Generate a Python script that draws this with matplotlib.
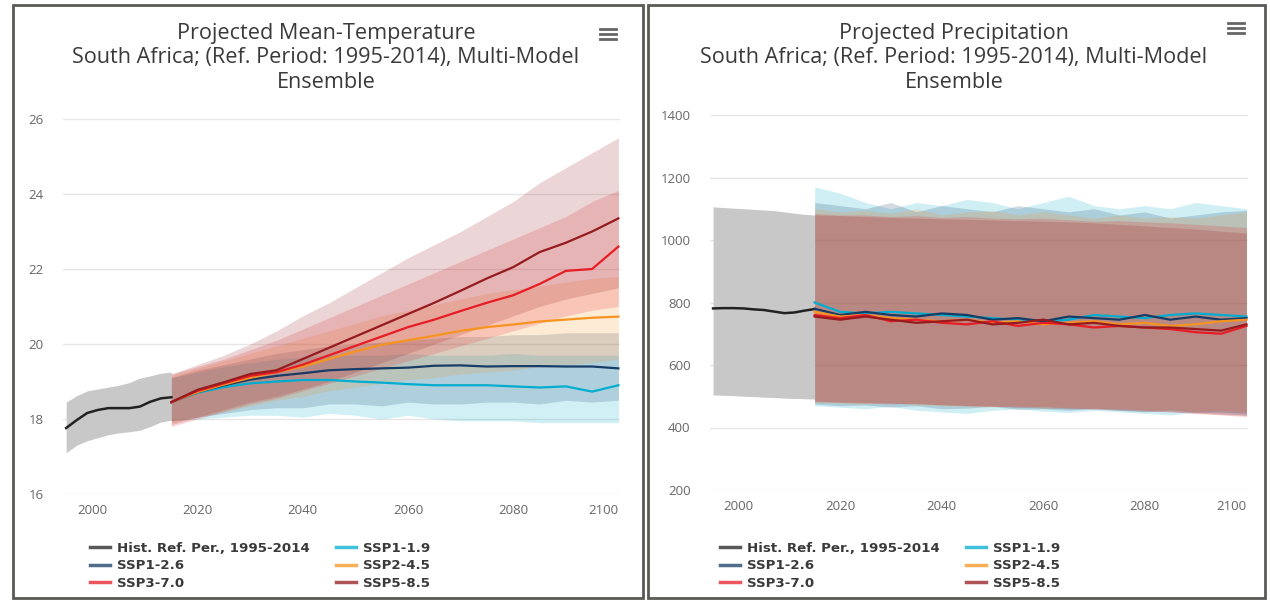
import numpy as np
import matplotlib
matplotlib.use("Agg")
import matplotlib.pyplot as plt
from matplotlib.lines import Line2D
from matplotlib.patches import Rectangle

plt.rcParams['font.family'] = ['Open Sans', 'DejaVu Sans']

# ---- data ----
hist_years = [1995, 1997, 1999, 2001, 2003, 2005, 2007, 2009, 2011, 2013, 2015]
hist_temp = [17.76, 17.97, 18.16, 18.24, 18.29, 18.29, 18.29, 18.33, 18.46, 18.55, 18.58]
hist_temp_lo = [17.1, 17.3, 17.42, 17.5, 17.58, 17.63, 17.66, 17.7, 17.8, 17.92, 17.97]
hist_temp_hi = [18.45, 18.62, 18.75, 18.8, 18.85, 18.9, 18.97, 19.09, 19.15, 19.22, 19.25]

hist_pr = [781, 782, 782, 781, 778, 776, 771, 766, 768, 774, 779]
hist_pr_lo = [504, 503, 502, 500, 499, 497, 496, 494, 493, 492, 491]
hist_pr_hi = [1106, 1104, 1102, 1100, 1098, 1096, 1094, 1090, 1086, 1082, 1080]

years = [2015, 2020, 2025, 2030, 2035, 2040, 2045, 2050, 2055, 2060,
         2065, 2070, 2075, 2080, 2085, 2090, 2095, 2100]

scenarios = ['SSP1-1.9', 'SSP1-2.6', 'SSP2-4.5', 'SSP3-7.0', 'SSP5-8.5']
colors = ['#00adcf', '#173c66', '#f79420', '#e71d25', '#951b1e']

temp = {
    'SSP1-1.9': [18.45, 18.7, 18.85, 18.95, 19.0, 19.04, 19.04, 19.0, 18.97, 18.93,
                 18.9, 18.9, 18.9, 18.87, 18.84, 18.87, 18.73, 18.9],
    'SSP1-2.6': [18.45, 18.72, 18.9, 19.05, 19.15, 19.22, 19.3, 19.33, 19.35, 19.37,
                 19.42, 19.43, 19.4, 19.41, 19.41, 19.4, 19.4, 19.35],
    'SSP2-4.5': [18.45, 18.72, 18.92, 19.1, 19.25, 19.4, 19.6, 19.8, 19.98, 20.1,
                 20.22, 20.35, 20.45, 20.52, 20.6, 20.65, 20.7, 20.73],
    'SSP3-7.0': [18.45, 18.75, 18.95, 19.15, 19.25, 19.45, 19.7, 19.95, 20.2, 20.45,
                 20.65, 20.88, 21.1, 21.3, 21.6, 21.95, 22.0, 22.6],
    'SSP5-8.5': [18.45, 18.78, 18.98, 19.2, 19.3, 19.6, 19.9, 20.2, 20.5, 20.8,
                 21.1, 21.42, 21.75, 22.05, 22.45, 22.7, 23.0, 23.35],
}
temp_lo = {
    'SSP1-1.9': [17.95, 18.0, 18.05, 18.1, 18.1, 18.05, 18.15, 18.1, 18.0, 18.1,
                 18.0, 17.95, 17.95, 17.95, 17.9, 17.9, 17.9, 17.9],
    'SSP1-2.6': [17.95, 18.05, 18.15, 18.25, 18.3, 18.3, 18.4, 18.4, 18.35, 18.45,
                 18.4, 18.4, 18.45, 18.45, 18.4, 18.5, 18.45, 18.5],
    'SSP2-4.5': [17.9, 18.05, 18.2, 18.35, 18.5, 18.6, 18.75, 18.85, 18.95, 19.05,
                 19.1, 19.2, 19.25, 19.3, 19.4, 19.45, 19.5, 19.6],
    'SSP3-7.0': [17.8, 18.0, 18.2, 18.4, 18.55, 18.75, 18.95, 19.15, 19.35, 19.55,
                 19.75, 19.95, 20.15, 20.35, 20.55, 20.75, 20.9, 21.0],
    'SSP5-8.5': [17.85, 18.05, 18.25, 18.45, 18.6, 18.8, 19.0, 19.25, 19.5, 19.75,
                 20.0, 20.25, 20.5, 20.75, 21.0, 21.2, 21.35, 21.5],
}
temp_hi = {
    'SSP1-1.9': [19.1, 19.25, 19.4, 19.5, 19.6, 19.65, 19.7, 19.7, 19.7, 19.75,
                 19.7, 19.7, 19.7, 19.75, 19.7, 19.7, 19.7, 19.7],
    'SSP1-2.6': [19.1, 19.3, 19.45, 19.6, 19.75, 19.85, 19.95, 20.0, 20.05, 20.1,
                 20.15, 20.2, 20.2, 20.25, 20.25, 20.3, 20.3, 20.3],
    'SSP2-4.5': [19.15, 19.35, 19.55, 19.75, 19.95, 20.15, 20.35, 20.55, 20.75, 20.9,
                 21.05, 21.2, 21.35, 21.45, 21.55, 21.65, 21.75, 21.8],
    'SSP3-7.0': [19.2, 19.4, 19.6, 19.85, 20.1, 20.4, 20.7, 21.0, 21.3, 21.6,
                 21.9, 22.2, 22.5, 22.8, 23.1, 23.4, 23.8, 24.1],
    'SSP5-8.5': [19.2, 19.45, 19.7, 20.0, 20.35, 20.75, 21.1, 21.5, 21.9, 22.3,
                 22.65, 23.0, 23.4, 23.8, 24.3, 24.7, 25.1, 25.5],
}

pr = {
    'SSP1-1.9': [800, 770, 765, 770, 765, 760, 755, 750, 745, 740, 745, 760, 755, 750, 760, 765, 760, 755],
    'SSP1-2.6': [780, 760, 770, 760, 755, 765, 760, 745, 750, 740, 755, 750, 745, 760, 745, 755, 745, 750],
    'SSP2-4.5': [770, 755, 760, 750, 745, 740, 745, 735, 740, 730, 735, 740, 730, 735, 725, 730, 740, 745],
    'SSP3-7.0': [760, 750, 760, 740, 745, 735, 730, 740, 725, 735, 730, 720, 725, 720, 715, 705, 700, 725],
    'SSP5-8.5': [755, 745, 755, 745, 735, 740, 745, 730, 735, 745, 730, 735, 725, 720, 720, 715, 710, 730],
}
pr_lo = {
    'SSP1-1.9': [470, 465, 460, 468, 455, 450, 445, 455, 460, 452, 448, 455, 450, 445, 440, 450, 445, 440],
    'SSP1-2.6': [475, 470, 472, 465, 470, 460, 462, 468, 458, 460, 455, 462, 455, 450, 455, 448, 450, 445],
    'SSP2-4.5': [480, 478, 475, 480, 472, 470, 468, 465, 470, 462, 465, 460, 462, 455, 458, 452, 455, 450],
    'SSP3-7.0': [482, 480, 478, 475, 478, 472, 470, 468, 465, 468, 462, 460, 458, 455, 450, 445, 440, 435],
    'SSP5-8.5': [485, 482, 480, 478, 475, 473, 470, 468, 465, 462, 460, 458, 455, 452, 450, 446, 442, 438],
}
pr_hi = {
    'SSP1-1.9': [1170, 1150, 1120, 1100, 1120, 1110, 1130, 1120, 1100, 1120, 1140, 1110, 1100, 1110, 1100, 1120, 1110, 1100],
    'SSP1-2.6': [1120, 1110, 1100, 1120, 1090, 1110, 1100, 1090, 1110, 1100, 1090, 1100, 1080, 1090, 1070, 1080, 1090, 1095],
    'SSP2-4.5': [1100, 1090, 1095, 1085, 1100, 1080, 1090, 1095, 1080, 1090, 1080, 1070, 1080, 1070, 1075, 1070, 1080, 1090],
    'SSP3-7.0': [1085, 1080, 1080, 1075, 1078, 1072, 1075, 1070, 1068, 1070, 1065, 1060, 1062, 1058, 1055, 1050, 1045, 1040],
    'SSP5-8.5': [1080, 1078, 1075, 1072, 1070, 1068, 1066, 1064, 1062, 1060, 1058, 1055, 1050, 1045, 1040, 1035, 1028, 1022],
}

legend_order = ['Hist. Ref. Per., 1995-2014', 'SSP1-2.6', 'SSP3-7.0',
                'SSP1-1.9', 'SSP2-4.5', 'SSP5-8.5']


fig = plt.figure(figsize=(12.7, 6.01), dpi=100)
W, H = 1270.0, 601.0

# panel frames
for x0, x1 in [(13, 643), (648, 1265)]:
    fig.patches.append(Rectangle((x0 / W, 1 - 598 / H), (x1 - x0) / W, 593 / H,
                                 transform=fig.transFigure, fill=False,
                                 edgecolor='#5a5a55', linewidth=2))


def draw_panel(rect, hx, hy, hlo, hhi, data, lo, hi, ylim, yticks, title, title_x,
               menu_xy, leg_xy, band_alpha):
    ax = fig.add_axes(rect)
    ax.fill_between(hx, hlo, hhi, color='#c8c8c8', linewidth=0, zorder=1)
    for s, c in zip(scenarios, colors):
        ax.fill_between(years, lo[s], hi[s], color=c, alpha=band_alpha, linewidth=0, zorder=2)
    handles = {}
    handles['Hist. Ref. Per., 1995-2014'], = ax.plot(hx, hy, color='#222222', lw=1.8, zorder=4)
    for s, c in zip(scenarios, colors):
        handles[s], = ax.plot(years, data[s], color=c, lw=1.6, zorder=4)

    ax.set_xlim(1994.4, 2100.3)
    ax.set_ylim(*ylim)
    ax.set_yticks(yticks)
    ax.set_xticks([2000, 2020, 2040, 2060, 2080, 2100])
    ax.grid(axis='y', color='#e6e6e6', lw=1)
    ax.set_axisbelow(True)
    for sp in ax.spines.values():
        sp.set_visible(False)
    ax.tick_params(length=0, labelsize=9.5, labelcolor='#666666')
    ax.tick_params(axis='y', pad=14)
    ax.tick_params(axis='x', pad=7)
    ax.get_xticklabels()[-1].set_horizontalalignment('right')

    fig.text(title_x / W, 1 - 58 / H, title, ha='center', va='center',
             fontsize=15.6, color='#3a3a3a', linespacing=1.2)

    # hamburger menu
    mx, my = menu_xy
    for k in range(3):
        fig.add_artist(Line2D([mx / W, (mx + 16) / W], [1 - (my + 5 * k) / H] * 2,
                              color='#666666', lw=2))

    leg = fig.legend([handles[n] for n in legend_order], legend_order,
                     loc='upper left', bbox_to_anchor=(leg_xy[0] / W, 1 - leg_xy[1] / H),
                     ncol=2, frameon=False, handlelength=1.5, handletextpad=0.5,
                     labelspacing=0.32, columnspacing=2.0, borderaxespad=0, borderpad=0,
                     prop={'family': 'DejaVu Sans', 'weight': 'bold', 'size': 9.6})
    for t in leg.get_texts():
        t.set_color('#3a3a3a')
    for l in leg.get_lines():
        l.set_linewidth(2.5)
        l.set_alpha(0.75)
    return ax


draw_panel([63 / W, 1 - 494 / H, 557 / W, 375 / H],
           hist_years, hist_temp, hist_temp_lo, hist_temp_hi,
           temp, temp_lo, temp_hi, (16, 26), [16, 18, 20, 22, 24, 26],
           'Projected Mean-Temperature\nSouth Africa; (Ref. Period: 1995-2014), Multi-Model\nEnsemble',
           326, (600, 29), (90, 542), 0.18)

draw_panel([710 / W, 1 - 490 / H, 538 / W, 375 / H],
           hist_years, hist_pr, hist_pr_lo, hist_pr_hi,
           pr, pr_lo, pr_hi, (200, 1400), [200, 400, 600, 800, 1000, 1200, 1400],
           'Projected Precipitation\nSouth Africa; (Ref. Period: 1995-2014), Multi-Model\nEnsemble',
           954, (1228, 23), (720, 542), 0.19)

fig.savefig('out.png', dpi=100)
